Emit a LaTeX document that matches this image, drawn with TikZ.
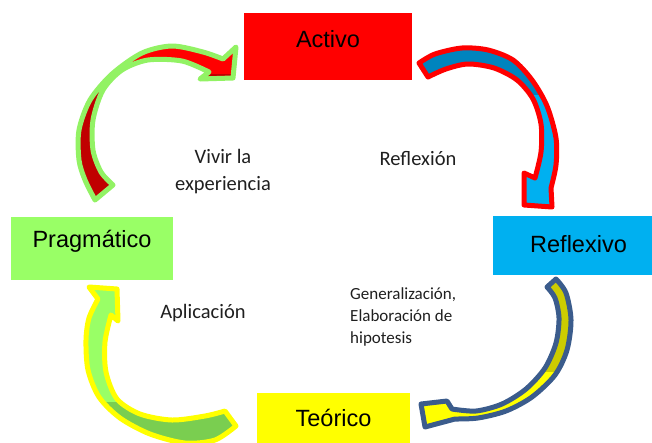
\documentclass[tikz,border=0pt]{standalone}
\usepackage{fontspec}
\setmainfont{Carlito}
\newfontfamily\cajafont{Liberation Sans}
\definecolor{activo}{HTML}{FF0000}
\definecolor{reflexivo}{HTML}{00B0F0}
\definecolor{pragmatico}{HTML}{99FF66}
\definecolor{teorico}{HTML}{FFFF00}
\definecolor{rojooscuro}{HTML}{C00000}
\definecolor{azuloscuro}{RGB}{0,132,190}
\definecolor{bordeverde}{RGB}{146,242,100}
\definecolor{bordeazul}{RGB}{59,92,140}
\definecolor{oliva}{RGB}{204,204,0}
\definecolor{verdeoscuro}{RGB}{122,206,80}
\tikzset{
  caja/.style={inner sep=0pt, text=black, font=\cajafont\fontsize{23.5}{28}\selectfont},
  rotulo/.style={inner sep=0pt, text=black!88, font=\fontsize{20.5}{27}\selectfont},
  flecha/.style={line width=5pt, line join=round}
}
\begin{document}
\begin{tikzpicture}[x=1pt,y=-1pt]
  \useasboundingbox (0,0) rectangle (652,442);
  \node[caja, fill=activo, minimum width=168pt, minimum height=67pt, text height=1pt, text depth=0pt] (activo) at (328,46.5) {Activo};
  \node[caja, fill=reflexivo, minimum width=171pt, minimum height=59pt, text height=13pt, text depth=0pt] (reflexivo) at (578.5,245.5) {Reflexivo};
  \node[caja, fill=pragmatico, minimum width=162pt, minimum height=63pt, text height=0pt, text depth=3pt] (pragmatico) at (92,248.5) {Pragmático};
  \node[caja, fill=teorico, minimum width=153pt, minimum height=52pt, text height=15pt, text depth=0pt] (teorico) at (333.5,419) {Teórico};

  \draw[flecha, draw=bordeverde, fill=rojooscuro, path picture={\fill[activo] (0,0) rectangle (652,74);}]
    plot[smooth] coordinates {(95,200) (85,180) (79,160) (79,130) (90,100) (112,74) (142,53) (172,46) (203,52) (223,59)}
    -- (236,47) -- (233,78) -- (200,79) -- (209,72)
    -- plot[smooth] coordinates {(209,72) (182,61) (148,60) (122,70) (103,90) (93,120) (93,150) (101,172) (113,185)}
    -- cycle;
  \draw[flecha, draw=activo, fill=reflexivo, path picture={\fill[azuloscuro] (0,0) rectangle (652,95);}]
    plot[smooth] coordinates {(419,63) (435,54) (462,48) (488,50) (513,60) (532,80) (547,106) (556,138) (556,165) (551,188)}
    -- (552,207) -- (524,205) -- (524,173) -- (535,178)
    -- plot[smooth] coordinates {(535,178) (541,152) (541,124) (533,99) (517,80) (494,68) (468,64) (446,69) (428,77)}
    -- cycle;
  \draw[flecha, draw=bordeazul, fill=teorico, path picture={\fill[oliva] (0,0) rectangle (652,372);}]
    plot[smooth] coordinates {(556,279) (566,293) (571,320) (567,350) (555,375) (532,397) (506,411) (478,418) (455,419)}
    -- (425,427) -- (421,404) -- (447,401) -- (452,409)
    -- plot[smooth] coordinates {(452,409) (476,411) (502,404) (526,389) (545,368) (556,343) (559,318) (555,298) (547,287)}
    -- cycle;
  \draw[flecha, draw=teorico, fill=pragmatico, path picture={\fill[verdeoscuro] (0,402) rectangle (652,460);}]
    plot[smooth] coordinates {(98,299) (89,318) (86,340) (88,370) (99,397) (120,418) (150,434) (185,443) (215,440) (236,426)}
    -- (225,411)
    -- plot[smooth] coordinates {(225,411) (205,416) (172,420) (140,414) (117,399) (106,372) (105,342) (111,315)}
    -- (118,321) -- (117,289) -- (89,287) -- cycle;

  \begin{scope}
    \clip (150,135) rectangle (300,193);
    \node[rotulo, align=center, anchor=base] (vivir) at (223,190) {Vivir la\\experiencia};
  \end{scope}
  \node[rotulo, anchor=base] (reflexion) at (418,165) {Reflexión};
  \node[rotulo, anchor=base] (aplicacion) at (203,318) {Aplicación};
  \node[rotulo, font=\fontsize{17}{22}\selectfont, align=left, anchor=base west] (general) at (350,343) {Generalización,\\Elaboración de\\hipotesis};
\end{tikzpicture}
\end{document}
